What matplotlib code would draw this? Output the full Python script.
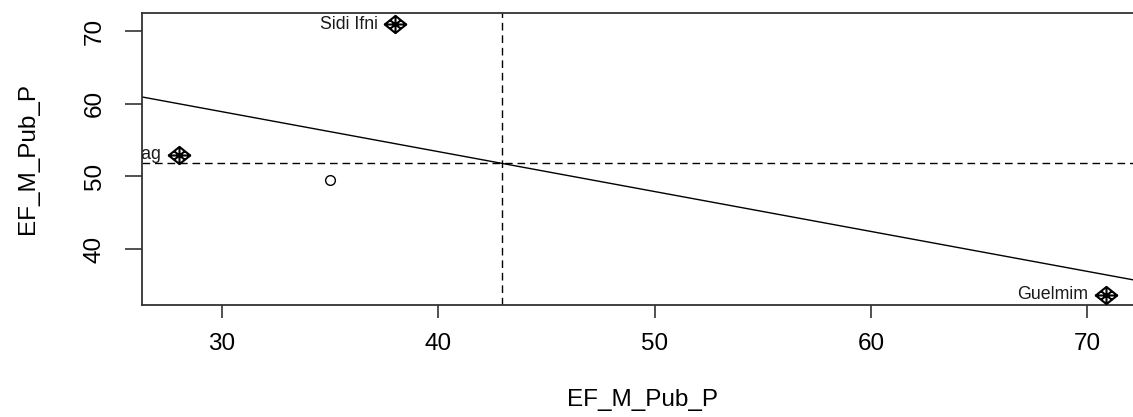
import numpy as np
import matplotlib
matplotlib.use("Agg")
import matplotlib.pyplot as plt
from matplotlib.path import Path

plt.rcParams['font.family'] = ['Liberation Sans', 'DejaVu Sans']

# Data
provinces = ["Assa-Zag", "Tan-Tan", "Sidi Ifni", "Guelmim"]
x_vals = [28.0, 35.0, 38.0, 70.85]          # EF_M_Pub_P
lag_vals = [53.0, 49.5, 70.9, 33.75]        # spatially lagged EF_M_Pub_P
influential = [True, False, True, True]
x_ticks = [30, 40, 50, 60, 70]
y_ticks = [40, 50, 60, 70]
x_label = "EF_M_Pub_P"
y_label = "EF_M_Pub_P"

x = np.array(x_vals)
y = np.array(lag_vals)

W, H = 1133, 417
fig = plt.figure(figsize=(W / 100, H / 100), dpi=100)
ax = fig.add_axes([142 / W, 1 - 305 / H, 1000.6 / W, 292 / H])

ax.set_xlim(26.3, 72.56)
ax.set_ylim(32.33, 72.47)

# regression line
slope, intercept = np.polyfit(x, y, 1)
xl = np.array(ax.get_xlim())
ax.plot(xl, intercept + slope * xl, color='black', lw=1.0, zorder=2)

# mean lines
ax.axvline(x.mean(), color='black', lw=1.0, ls=(0, (5.5, 3.5)), zorder=2)
ax.axhline(y.mean(), color='black', lw=1.0, ls=(0, (5.5, 3.5)), zorder=2)

# diamond-plus marker (R pch 9), slightly wider than tall as in the picture
hw, hh = 1.0, 0.8
verts = [(-hw, 0), (0, hh), (hw, 0), (0, -hh), (-hw, 0),
         (-hw, 0), (hw, 0), (0, -hh), (0, hh),
         (-hw / 2, -hh / 2), (hw / 2, hh / 2), (-hw / 2, hh / 2), (hw / 2, -hh / 2)]
codes = [Path.MOVETO, Path.LINETO, Path.LINETO, Path.LINETO, Path.CLOSEPOLY,
         Path.MOVETO, Path.LINETO, Path.MOVETO, Path.LINETO,
         Path.MOVETO, Path.LINETO, Path.MOVETO, Path.LINETO]
dplus = Path(verts, codes)

for name, xi, yi, inf in zip(provinces, x, y, influential):
    if inf:
        ax.plot([xi], [yi], marker=dplus, markersize=15.5, mfc='none',
                mec='black', mew=1.5, ls='none', zorder=3)
        ax.annotate(name, (xi, yi), xytext=(-12.5, 0), textcoords='offset points',
                    ha='right', va='center', fontsize=12.8, color='#1a1a1a',
                    annotation_clip=False, clip_on=True)
    else:
        ax.plot([xi], [yi], marker='o', markersize=7, mfc='none',
                mec='black', mew=1.0, ls='none', zorder=3)

ax.set_xticks(x_ticks)
ax.set_yticks(y_ticks)
ax.tick_params(axis='x', length=9.5, width=1.2, color='#333333', pad=11, labelsize=17.5)
ax.tick_params(axis='y', length=12, width=1.2, color='#333333', pad=14, labelsize=17.5)
for lbl in ax.get_yticklabels():
    lbl.set_rotation(90)
    lbl.set_va('center')

for sp in ax.spines.values():
    sp.set_color('#333333')
    sp.set_linewidth(1.3)

ax.set_xlabel(x_label, fontsize=17.5, va='center')
ax.xaxis.set_label_coords(0.5, (305 - 400) / 292)
ax.set_ylabel(y_label, fontsize=17.5, va='center')
ax.yaxis.set_label_coords((28 - 142) / 1000.6, 0.5)

fig.savefig("out.png", dpi=100)
